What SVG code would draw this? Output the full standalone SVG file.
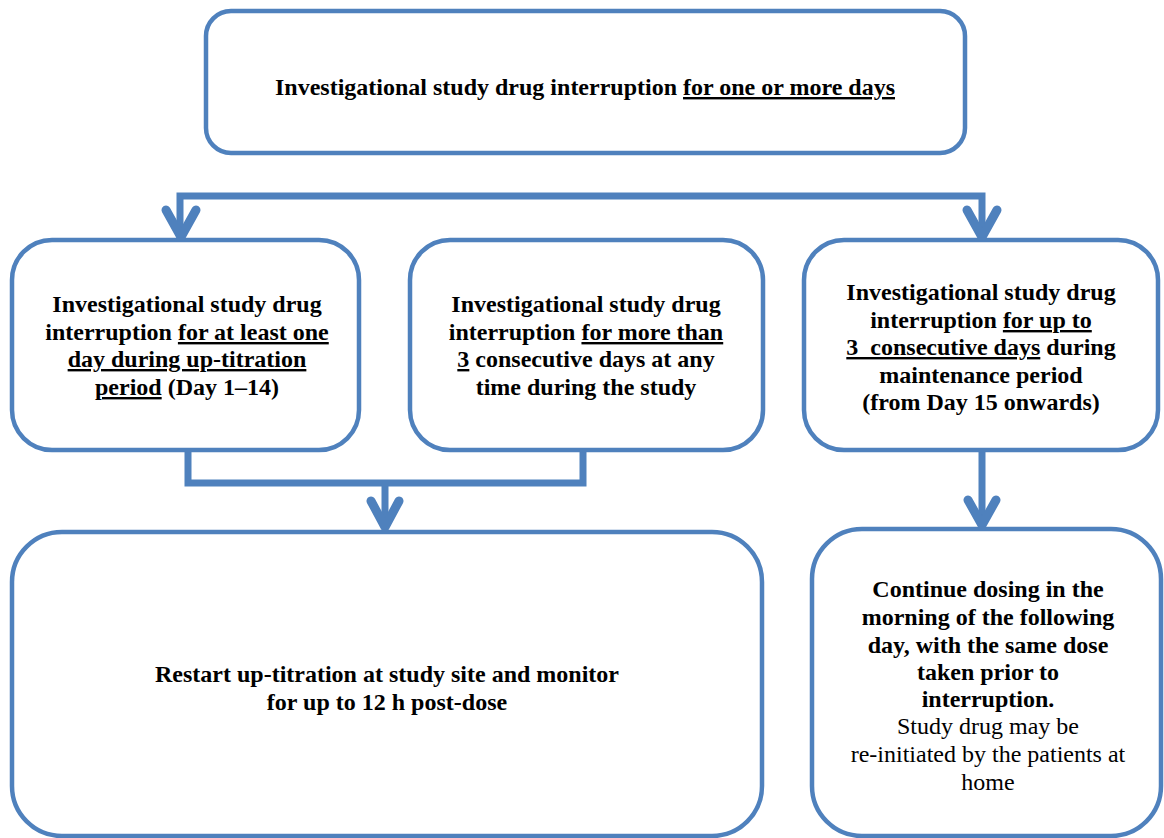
<svg xmlns="http://www.w3.org/2000/svg" width="1164" height="838" viewBox="0 0 1164 838">
<style>
.box{fill:#fff;stroke:#4F81BD;stroke-width:4.5}
.ln{fill:none;stroke:#4F81BD;stroke-width:7}
.ah{fill:none;stroke:#4F81BD;stroke-width:9;stroke-linecap:round;stroke-linejoin:round}
text{font-family:"Liberation Serif","Times New Roman",serif;font-size:24px;font-weight:bold;fill:#000;text-anchor:middle}
.u{text-decoration:underline}
.n{font-weight:normal}
</style>
<rect width="1164" height="838" fill="#fff"/>
<g id="connectors">
<polyline class="ln" points="180,238 180,196 982,196 982,238"/>
<polyline class="ah" points="166,210 181,237 196,210"/>
<polyline class="ah" points="967,210 982,237 997,210"/>
<polyline class="ln" points="188,450 188,483 583,483 583,450"/>
<line class="ln" x1="385" y1="483" x2="385" y2="528"/>
<polyline class="ah" points="371,501 385,527 399,501"/>
<line class="ln" x1="982" y1="450" x2="982" y2="526"/>
<polyline class="ah" points="968,500 982,525 996,500"/>
</g>
<g id="top">
<rect class="box" x="206" y="11" width="759" height="142" rx="25"/>
<text x="585" y="95">Investigational study drug interruption <tspan class="u">for one or more days</tspan></text>
</g>
<g id="n1">
<rect class="box" x="12" y="240" width="347" height="210" rx="40"/>
<text x="187" y="312">Investigational study drug</text>
<text x="187" y="340">interruption <tspan class="u">for at least one</tspan></text>
<text x="187" y="367"><tspan class="u">day during up-titration</tspan></text>
<text x="187" y="395"><tspan class="u">period</tspan> (Day 1–14)</text>
</g>
<g id="n2">
<rect class="box" x="410" y="240" width="353" height="210" rx="40"/>
<text x="586" y="312">Investigational study drug</text>
<text x="586" y="340">interruption <tspan class="u">for more than</tspan></text>
<text x="586" y="367"><tspan class="u">3</tspan> consecutive days at any</text>
<text x="586" y="395">time during the study</text>
</g>
<g id="n3">
<rect class="box" x="804" y="240" width="354" height="210" rx="40"/>
<text x="981" y="300">Investigational study drug</text>
<text x="981" y="328">interruption <tspan class="u">for up to</tspan></text>
<text x="981" y="355" xml:space="preserve"><tspan class="u">3  consecutive days</tspan> during</text>
<text x="981" y="383">maintenance period</text>
<text x="981" y="410">(from Day 15 onwards)</text>
</g>
<g id="n4">
<rect class="box" x="12" y="532" width="750" height="304" rx="50"/>
<text x="387" y="682">Restart up-titration at study site and monitor</text>
<text x="387" y="710">for up to 12 h post-dose</text>
</g>
<g id="n5">
<rect class="box" x="812" y="529" width="349" height="307" rx="50"/>
<text x="988" y="597">Continue dosing in the</text>
<text x="988" y="625">morning of the following</text>
<text x="988" y="653">day, with the same dose</text>
<text x="988" y="680">taken prior to</text>
<text x="988" y="707">interruption.</text>
<text class="n" x="988" y="734">Study drug may be</text>
<text class="n" x="988" y="762">re-initiated by the patients at</text>
<text class="n" x="988" y="790">home</text>
</g>
</svg>
